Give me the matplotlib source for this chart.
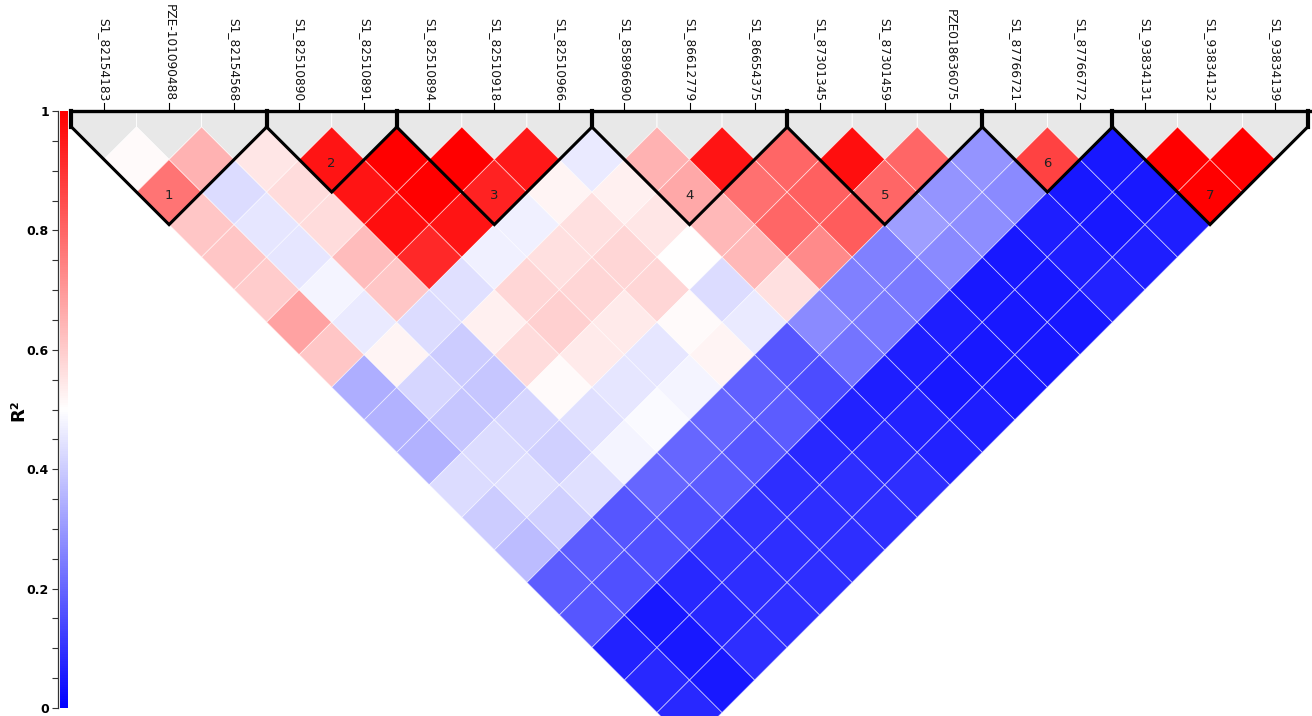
import matplotlib
matplotlib.use("Agg")
import matplotlib.pyplot as plt
from matplotlib.collections import PolyCollection
from matplotlib.colors import LinearSegmentedColormap, Normalize
from matplotlib.patches import Polygon
from matplotlib.ticker import MultipleLocator


MARKERS = [
    "S1_82154183", "PZE-101090488", "S1_82154568", "S1_82510890",
    "S1_82510891", "S1_82510894", "S1_82510918", "S1_82510966",
    "S1_85896690", "S1_86612779", "S1_86654375", "S1_87301345",
    "S1_87301459", "PZE018636075", "S1_87766721", "S1_87766772",
    "S1_93834131", "S1_93834132", "S1_93834139",
]

# r2 of marker i with markers i+1 .. n-1
R2_ROWS = [
    [0.51, 0.77, 0.61, 0.61, 0.60, 0.68, 0.61, 0.34, 0.35, 0.35, 0.43, 0.40,
     0.37, 0.18, 0.17, 0.07, 0.08, 0.08],
    [0.65, 0.43, 0.45, 0.45, 0.48, 0.46, 0.52, 0.42, 0.39, 0.43, 0.44, 0.41,
     0.18, 0.16, 0.05, 0.05, 0.05],
    [0.55, 0.57, 0.57, 0.63, 0.61, 0.43, 0.40, 0.39, 0.42, 0.41, 0.44, 0.17,
     0.16, 0.08, 0.08, 0.09],
    [0.96, 0.96, 0.97, 0.92, 0.44, 0.53, 0.57, 0.51, 0.44, 0.48, 0.20, 0.16,
     0.10, 0.09, 0.09],
    [1.00, 1.00, 0.96, 0.47, 0.58, 0.59, 0.54, 0.45, 0.49, 0.20, 0.18, 0.10,
     0.09, 0.09],
    [1.00, 0.93, 0.47, 0.56, 0.58, 0.54, 0.45, 0.48, 0.20, 0.17, 0.09, 0.09,
     0.09],
    [0.95, 0.52, 0.56, 0.58, 0.58, 0.51, 0.52, 0.19, 0.18, 0.08, 0.09, 0.09],
    [0.46, 0.53, 0.55, 0.50, 0.43, 0.46, 0.17, 0.15, 0.07, 0.08, 0.09],
    [0.65, 0.67, 0.64, 0.64, 0.56, 0.27, 0.23, 0.06, 0.07, 0.07],
    [0.96, 0.78, 0.80, 0.73, 0.25, 0.24, 0.06, 0.05, 0.06],
    [0.80, 0.81, 0.82, 0.25, 0.24, 0.06, 0.05, 0.05],
    [0.97, 0.80, 0.31, 0.27, 0.05, 0.05, 0.05],
    [0.80, 0.29, 0.28, 0.05, 0.05, 0.05],
    [0.29, 0.27, 0.06, 0.06, 0.07],
    [0.87, 0.05, 0.05, 0.06],
    [0.05, 0.05, 0.06],
    [1.00, 1.00],
    [1.00],
]

# haplotype blocks: first and last marker index
BLOCKS = [(0, 2), (3, 4), (5, 7), (8, 10), (11, 13), (14, 15), (16, 18)]
BLOCK_LABELS = ["1", "2", "3", "4", "5", "6", "7"]

COLORBAR_TICKS = [0, 0.2, 0.4, 0.6, 0.8, 1]
COLORBAR_TICK_LABELS = ["0", "0.2", "0.4", "0.6", "0.8", "1"]


def main():
    n = len(MARKERS)
    top = -0.246

    cmap = LinearSegmentedColormap.from_list(
        "ld", ["#0000ff", "#ffffff", "#ff0000"]
    )
    norm = Normalize(0, 1)

    fig = plt.figure(figsize=(13.12, 7.16), dpi=100)
    ax = fig.add_axes([0, 0, 1, 1])
    ax.set_xlim(-1.5985, 18.567)
    ax.set_ylim(9.053, -1.952)
    ax.axis("off")

    # grey header strip
    for i in range(n):
        header = [
            (i - 0.5, top), (i + 0.5, top), (i + 0.5, 0),
            (i, 0.5), (i - 0.5, 0),
        ]
        ax.add_patch(
            Polygon(
                header,
                closed=True,
                facecolor="#e8e8e8",
                edgecolor="white",
                linewidth=0.6,
            )
        )

    # LD diamonds
    verts = []
    values = []
    for i, row in enumerate(R2_ROWS):
        for k, value in enumerate(row):
            j = i + k + 1
            cx = (i + j) / 2
            cy = (j - i) * 0.5
            verts.append(
                [(cx, cy - 0.5), (cx + 0.5, cy), (cx, cy + 0.5), (cx - 0.5, cy)]
            )
            values.append(value)

    cells = PolyCollection(
        verts,
        array=values,
        cmap=cmap,
        norm=norm,
        edgecolors=(1, 1, 1, 0.55),
        linewidths=0.6,
    )
    ax.add_collection(cells)

    # block outlines
    for (a, b), label in zip(BLOCKS, BLOCK_LABELS):
        ax.plot(
            [a - 0.5, (a + b) / 2, b + 0.5],
            [0, (b - a) * 0.5 + 0.5, 0],
            color="black",
            linewidth=2.2,
            solid_joinstyle="miter",
        )
        ax.plot([a - 0.5, a - 0.5], [top, 0], color="black", linewidth=3)
        ax.text(
            (a + b) / 2,
            (b - a) * 0.5 + 0.06,
            label,
            ha="center",
            va="center",
            fontsize=9.5,
            color="#222222",
        )
    ax.plot([n - 0.5, n - 0.5], [top, 0], color="black", linewidth=3)
    ax.plot(
        [-0.5, n - 0.45],
        [top, top],
        color="black",
        linewidth=2.4,
        solid_capstyle="projecting",
    )

    # marker ticks and names
    for i, name in enumerate(MARKERS):
        ax.plot([i, i], [top, top - 0.13], color="black", linewidth=0.8)
        ax.text(
            i,
            top - 0.15,
            name,
            rotation=-90,
            ha="center",
            va="bottom",
            fontsize=8.7,
            color="#111111",
        )

    # colour bar
    cax = fig.add_axes([60 / 1312, 8 / 716, 8 / 1312, 597 / 716])
    cbar = fig.colorbar(cells, cax=cax)
    cbar.outline.set_visible(False)
    cax.yaxis.set_ticks_position("left")
    cbar.set_ticks(COLORBAR_TICKS)
    cbar.set_ticklabels(COLORBAR_TICK_LABELS)
    cax.yaxis.set_minor_locator(MultipleLocator(0.05))
    cax.spines["left"].set_visible(True)
    cax.spines["left"].set_position(("outward", 1.5))
    cax.spines["left"].set_color("#333333")
    cax.spines["left"].set_linewidth(0.9)
    cax.tick_params(
        which="both",
        length=4.5,
        width=0.8,
        color="#333333",
        pad=2,
        labelsize=9,
    )
    for tick_label in cax.get_yticklabels():
        tick_label.set_fontweight("bold")

    fig.text(
        18 / 1312,
        1 - 410 / 716,
        "R²",
        rotation=90,
        ha="center",
        va="center",
        fontsize=13,
        fontweight="bold",
    )

    fig.savefig("out.png", dpi=100)
    plt.close(fig)


if __name__ == "__main__":
    main()
